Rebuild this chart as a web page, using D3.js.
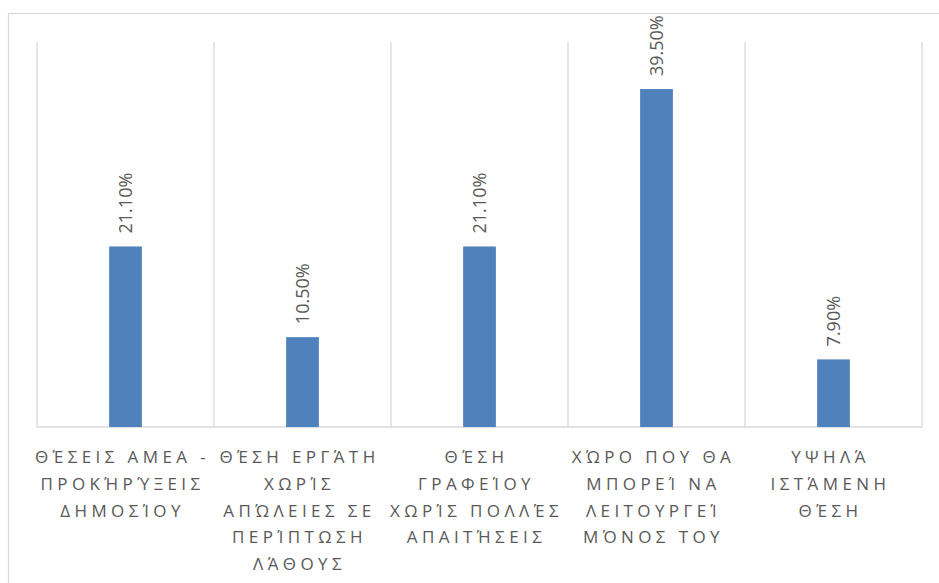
<!DOCTYPE html>
<html>
<head>
<meta charset="utf-8">
<script src="https://cdn.jsdelivr.net/npm/d3@7"></script>
<style>
  body { margin: 0; background: #fff; }
  svg { display: block; }
  .cat-label { font-family: "Open Sans", sans-serif; font-size: 17px; fill: #595959; letter-spacing: 4.4px; }
  .val-label { font-family: "Open Sans", sans-serif; font-size: 18px; fill: #595959; }
</style>
</head>
<body>
<div id="chart"></div>
<script>
// category labels, already wrapped the way the original shows them
const categories = [
  ["ΘΈΣΕΙΣ ΑΜΕΑ -", "ΠΡΟΚΉΡΎΞΕΙΣ", "ΔΗΜΟΣΊΟΥ"],
  ["ΘΈΣΗ ΕΡΓΆΤΗ", "ΧΩΡΊΣ", "ΑΠΏΛΕΙΕΣ ΣΕ", "ΠΕΡΊΠΤΩΣΗ", "ΛΆΘΟΥΣ"],
  ["ΘΈΣΗ", "ΓΡΑΦΕΊΟΥ", "ΧΩΡΊΣ ΠΟΛΛΈΣ", "ΑΠΑΙΤΉΣΕΙΣ"],
  ["ΧΏΡΟ ΠΟΥ ΘΑ", "ΜΠΟΡΕΊ ΝΑ", "ΛΕΙΤΟΥΡΓΕΊ", "ΜΌΝΟΣ ΤΟΥ"],
  ["ΥΨΗΛΆ", "ΙΣΤΆΜΕΝΗ", "ΘΈΣΗ"]
];
const values = [0.211, 0.105, 0.211, 0.395, 0.079];
const valueLabels = ["21.10%", "10.50%", "21.10%", "39.50%", "7.90%"];

const width = 939, height = 583;
const plot = {left: 37, right: 922, top: 42, bottom: 427};

const svg = d3.select('#chart').append('svg')
  .attr('width', width)
  .attr('height', height);

// chart area frame
svg.append('rect')
  .attr('x', 8.5).attr('y', 13.5)
  .attr('width', 960).attr('height', 620)
  .attr('fill', 'none')
  .attr('stroke', '#d9d9d9')
  .attr('stroke-width', 1.3);

const idx = d3.range(categories.length);

const xScale = d3.scaleBand()
  .domain(idx)
  .range([plot.left, plot.right])
  .padding(0);

const yScale = d3.scaleLinear()
  .domain([0, 0.45])
  .range([plot.bottom, plot.top]);

// vertical gridlines between categories
const bounds = idx.map(i => xScale(i)).concat([plot.right]);
svg.append('g')
  .selectAll('line')
  .data(bounds)
  .join('line')
  .attr('x1', d => d).attr('x2', d => d)
  .attr('y1', yScale(0.45)).attr('y2', yScale(0))
  .attr('stroke', '#d9d9d9')
  .attr('stroke-width', 1.3);

// category axis line
svg.append('line')
  .attr('x1', plot.left).attr('x2', plot.right)
  .attr('y1', yScale(0)).attr('y2', yScale(0))
  .attr('stroke', '#d9d9d9')
  .attr('stroke-width', 1.3);

const barW = xScale.bandwidth() * 0.185;
const cx = i => xScale(i) + xScale.bandwidth() / 2;

svg.append('g')
  .selectAll('rect')
  .data(values)
  .join('rect')
  .attr('x', (d, i) => cx(i) - barW / 2)
  .attr('y', d => yScale(d))
  .attr('width', barW)
  .attr('height', d => yScale(0) - yScale(d))
  .attr('fill', '#4f81bd');

// rotated value labels
svg.append('g')
  .selectAll('text')
  .data(values)
  .join('text')
  .attr('class', 'val-label')
  .attr('transform', (d, i) => `translate(${cx(i)},${yScale(d) - 13}) rotate(-90)`)
  .attr('dy', '0.35em')
  .attr('text-anchor', 'start')
  .text((d, i) => valueLabels[i]);

// wrapped category labels
const labels = svg.append('g')
  .selectAll('text')
  .data(categories)
  .join('text')
  .attr('class', 'cat-label')
  .attr('text-anchor', 'middle');

labels.each(function(lines, i) {
  d3.select(this).selectAll('tspan')
    .data(lines)
    .join('tspan')
    .attr('x', cx(i) - 3)
    .attr('y', (d, j) => 463 + j * 26.8)
    .text(d => d);
});
</script>
</body>
</html>
